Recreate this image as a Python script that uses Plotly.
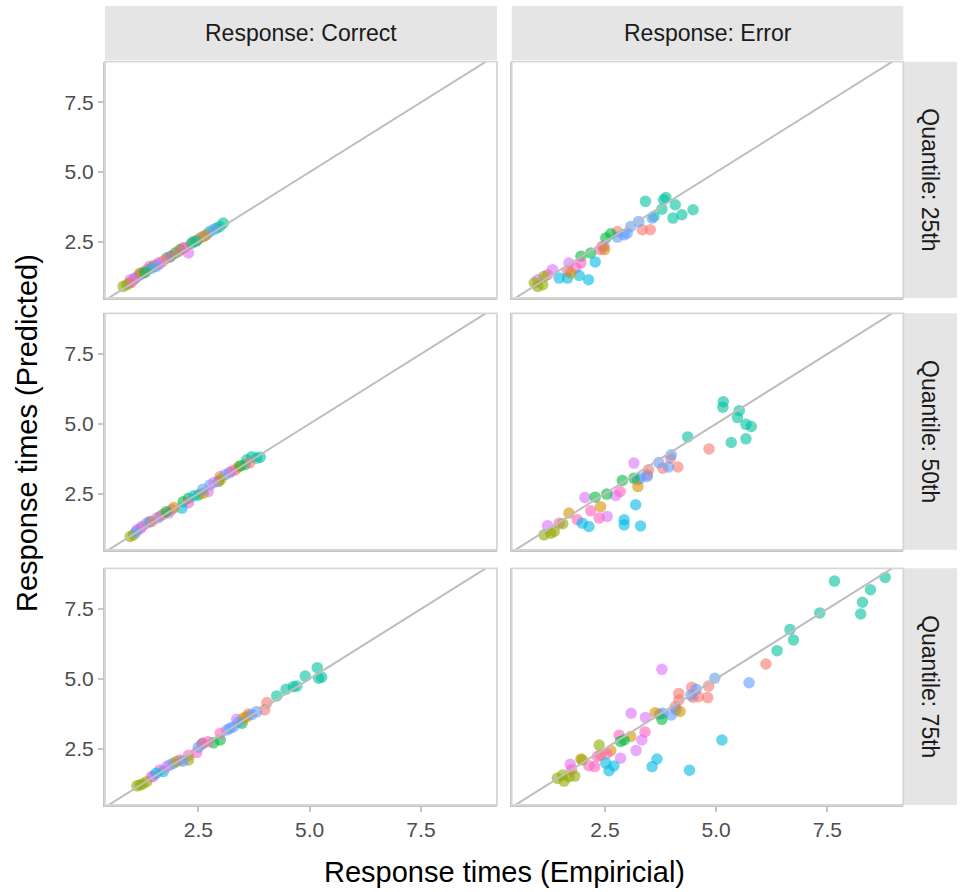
import plotly.graph_objects as go

# ---------------- data ----------------
COLORS = ["#F8766D", "#D39200", "#93AA00", "#00BA38", "#00C19F",
          "#00B9E3", "#619CFF", "#DB72FB", "#FF61C3"]
responses = ["Correct", "Error"]
quantiles = ["25th", "50th", "75th"]
tick_vals = [2.5, 5.0, 7.5]
tick_text = ["2.5", "5.0", "7.5"]

# Response: Correct, Quantile 25th
c25_x = [3.06, 2.91, 2.76, 2.98, 2.85, 2.54, 2.39, 2.61, 2.70, 2.47, 2.28, 2.16, 1.98, 1.79, 2.09, 1.88,
         1.60, 1.34, 1.41, 1.70, 1.50, 1.19, 1.08, 1.25, 0.97, 1.05, 1.15, 0.81, 0.89, 0.95, 1.19, 1.45,
         1.62, 1.85, 2.05, 2.20, 2.35, 1.30, 1.55, 2.45, 2.65, 1.00]
c25_y = [3.17, 2.99, 2.87, 3.05, 2.95, 2.64, 2.51, 2.69, 2.78, 2.55, 2.10, 2.28, 2.10, 1.92, 2.22, 1.98,
         1.74, 1.50, 1.62, 1.80, 1.64, 1.32, 1.20, 1.38, 1.14, 1.15, 1.28, 0.90, 0.96, 1.02, 1.38, 1.55,
         1.70, 1.95, 2.15, 2.30, 2.45, 1.40, 1.62, 2.52, 2.72, 1.05]
c25_g = [4, 4, 4, 4, 6, 6, 6, 0, 6, 1, 7, 8, 3, 3, 3, 3,
         8, 8, 8, 0, 1, 5, 5, 6, 7, 7, 7, 2, 2, 2, 1, 5,
         7, 8, 0, 8, 3, 3, 6, 4, 1, 8]

# Response: Correct, Quantile 50th
c50_x = [3.81, 3.59, 3.55, 3.89, 3.70, 3.33, 2.99, 3.10, 2.76, 3.20, 2.95, 2.50, 2.16, 2.28, 2.72, 1.83,
         1.12, 2.28, 1.90, 1.57, 1.34, 2.13, 1.41, 0.97, 1.04, 2.61, 1.64, 1.23, 3.40, 3.00, 2.85, 1.70,
         1.95, 1.20, 1.45, 3.25, 2.40, 3.65, 2.60, 1.78, 1.10, 3.45]
c50_y = [3.77, 3.71, 3.53, 3.80, 3.82, 3.35, 3.11, 3.17, 2.81, 3.25, 2.93, 2.45, 2.21, 2.33, 2.57, 1.80,
         1.20, 2.17, 1.92, 1.62, 1.44, 1.98, 1.50, 0.96, 1.02, 2.51, 1.68, 1.32, 3.45, 3.00, 2.90, 1.75,
         2.00, 1.25, 1.50, 3.30, 2.42, 3.60, 2.65, 1.85, 1.12, 3.50]
c50_g = [4, 4, 4, 4, 4, 0, 0, 6, 6, 6, 3, 3, 3, 3, 7, 7,
         7, 8, 8, 8, 8, 5, 5, 2, 2, 1, 6, 6, 1, 1, 7, 0,
         1, 8, 0, 8, 5, 0, 6, 3, 6, 3]

# Response: Correct, Quantile 75th
c75_x = [5.17, 5.20, 4.90, 4.71, 4.47, 4.26, 4.63, 5.27, 4.04, 3.99, 3.62, 3.81, 3.29, 3.14, 3.36, 3.59,
         3.48, 2.99, 2.84, 2.58, 2.99, 2.72, 2.46, 2.28, 2.09, 1.64, 1.45, 2.28, 1.19, 1.12, 1.34, 1.71,
         1.94, 1.86, 3.21, 1.49, 1.79, 2.01, 3.51, 1.25, 2.15, 2.50, 3.40, 1.55, 2.60, 3.70]
c75_y = [5.40, 5.02, 5.10, 4.74, 4.63, 4.39, 4.72, 5.06, 4.15, 3.89, 3.74, 3.82, 3.29, 3.17, 3.55, 3.64,
         3.41, 2.81, 2.71, 2.67, 3.05, 2.75, 2.36, 2.27, 2.10, 1.74, 1.50, 2.10, 1.20, 1.17, 1.32, 1.68,
         1.98, 1.92, 3.23, 1.52, 1.86, 2.04, 3.59, 1.24, 2.05, 2.55, 3.45, 1.62, 2.70, 3.72]
c75_g = [4, 4, 4, 4, 4, 4, 4, 4, 0, 0, 0, 6, 6, 6, 7, 1,
         3, 3, 3, 3, 8, 8, 8, 8, 8, 8, 8, 2, 2, 2, 2, 5,
         5, 6, 6, 7, 7, 1, 1, 2, 6, 6, 6, 5, 8, 6]

# Response: Error, Quantile 25th
e25_x = [3.87, 3.82, 3.41, 4.08, 3.78, 4.48, 4.23, 4.03, 3.60, 3.52, 3.34, 2.78, 2.44, 3.56, 3.26, 3.08,
         2.93, 2.78, 3.00, 2.52, 2.18, 1.96, 2.63, 2.48, 1.69, 1.32, 0.99, 1.96, 1.84, 1.66, 1.21, 2.40,
         2.28, 2.13, 1.92, 1.66, 1.47, 1.73, 2.49, 0.99, 1.10, 0.91, 1.13]
e25_y = [4.09, 4.01, 3.95, 3.83, 3.67, 3.65, 3.47, 3.35, 3.41, 2.93, 2.93, 2.87, 2.34, 3.35, 3.23, 3.05,
         2.75, 2.67, 2.81, 2.64, 2.10, 1.98, 2.79, 2.34, 1.74, 1.50, 1.14, 1.74, 1.56, 1.44, 1.32, 2.22,
         1.78, 1.14, 1.29, 1.20, 1.20, 1.38, 2.22, 0.90, 0.96, 1.03, 1.26]
e25_g = [4, 4, 4, 4, 4, 4, 4, 4, 4, 0, 0, 0, 0, 6, 6, 6,
         6, 6, 6, 3, 3, 3, 3, 7, 7, 7, 7, 8, 8, 8, 8, 8,
         5, 5, 5, 5, 5, 1, 1, 2, 2, 2, 2]

# Response: Error, Quantile 50th
e50_x = [5.16, 5.15, 5.52, 5.48, 5.67, 5.79, 5.67, 5.34, 4.36, 4.84, 4.14, 3.80, 3.97, 3.48, 3.45, 3.99,
         3.93, 3.71, 3.45, 3.30, 3.23, 3.15, 2.05, 2.74, 2.55, 1.21, 2.89, 2.28, 2.54, 3.15, 3.24, 2.40,
         1.69, 2.84, 2.18, 1.88, 1.47, 2.37, 3.19, 2.93, 2.93, 3.30, 2.14, 1.99, 1.13, 1.28, 1.36, 1.55]
e50_y = [5.79, 5.59, 5.47, 5.22, 4.98, 4.90, 4.46, 4.33, 4.53, 4.10, 3.45, 3.41, 3.77, 3.35, 3.17, 3.89,
         3.45, 3.61, 3.11, 3.05, 2.99, 3.59, 2.36, 2.43, 1.68, 1.35, 2.97, 2.37, 2.48, 3.05, 2.75, 2.03,
         1.80, 2.57, 1.88, 1.56, 1.44, 1.62, 2.10, 1.56, 1.38, 1.34, 1.32, 1.44, 1.02, 1.08, 1.14, 1.42]
e50_g = [4, 4, 4, 4, 4, 4, 4, 4, 4, 0, 0, 0, 0, 0, 0, 6,
         6, 6, 6, 6, 6, 7, 7, 7, 7, 7, 3, 3, 3, 3, 1, 1,
         1, 8, 8, 8, 8, 8, 5, 5, 5, 5, 5, 5, 2, 2, 2, 2]

# Response: Error, Quantile 75th
e75_x = [7.66, 8.80, 8.47, 8.29, 8.25, 7.33, 6.66, 6.74, 6.37, 6.12, 4.83, 4.81, 4.45, 4.16, 4.16, 4.48,
         4.60, 4.08, 5.74, 4.97, 4.55, 4.43, 4.10, 3.99, 3.80, 3.73, 4.19, 3.63, 3.08, 2.63, 1.96, 2.40,
         3.78, 3.78, 3.09, 3.41, 3.33, 3.20, 2.85, 1.72, 3.40, 2.82, 2.54, 2.33, 2.14, 2.27, 1.75, 2.93,
         2.85, 5.13, 4.40, 3.67, 3.56, 2.70, 2.59, 2.52, 2.37, 1.99, 1.82, 1.58, 1.43, 1.55, 1.69]
e75_y = [8.50, 8.63, 8.19, 7.74, 7.32, 7.36, 6.77, 6.39, 6.01, 5.53, 4.74, 4.33, 4.70, 4.48, 4.24, 4.34,
         4.36, 4.00, 4.86, 5.02, 4.63, 4.42, 3.89, 3.71, 3.77, 3.74, 3.83, 3.79, 2.94, 2.43, 2.13, 2.27,
         3.55, 5.34, 3.77, 3.62, 2.81, 2.44, 2.16, 1.94, 3.10, 2.98, 2.32, 2.22, 1.89, 1.86, 1.75, 2.81,
         2.76, 2.81, 1.73, 2.13, 1.86, 1.88, 1.71, 1.98, 2.63, 2.10, 1.52, 1.34, 1.44, 1.56, 1.50]
e75_g = [4, 4, 4, 4, 4, 4, 4, 4, 4, 0, 0, 0, 0, 0, 0, 0,
         0, 0, 6, 6, 6, 6, 6, 6, 6, 6, 1, 1, 1, 1, 1, 1,
         3, 7, 7, 7, 7, 7, 7, 7, 8, 8, 8, 8, 8, 8, 8, 3,
         3, 5, 5, 5, 5, 5, 5, 5, 2, 2, 2, 2, 2, 2, 2]

panel_data = [
    [(c25_x, c25_y, c25_g), (e25_x, e25_y, e25_g)],
    [(c50_x, c50_y, c50_g), (e50_x, e50_y, e50_g)],
    [(c75_x, c75_y, c75_g), (e75_x, e75_y, e75_g)],
]

# ---------------- layout geometry (pixels) ----------------
W, H = 960, 892
col_px = [(105, 497), (511.7, 903.3)]
row_px = [(61.7, 298), (313.3, 549.8), (568.3, 805)]
x_range = [0.403, 9.208]
y_range = [0.485, 8.957]

FONT = "Liberation Sans, Arial, sans-serif"
AXIS_LINE = "#c4c4c4"
BORDER = "#d6d6d6"
STRIP = "#e5e5e5"

fig = go.Figure()
layout = dict(
    width=W, height=H, margin=dict(l=0, r=0, t=0, b=0),
    paper_bgcolor="white", plot_bgcolor="white", showlegend=False,
    font=dict(family=FONT),
)
shapes = []
annotations = []

for r in range(3):
    for c in range(2):
        k = r * 2 + c + 1
        xa = "x" if k == 1 else f"x{k}"
        ya = "y" if k == 1 else f"y{k}"
        xs, ys, gs = panel_data[r][c]
        fig.add_trace(go.Scatter(
            x=xs, y=ys, mode="markers", xaxis=xa, yaxis=ya,
            marker=dict(size=11.5, color=[COLORS[g] for g in gs], opacity=0.6, line=dict(width=0)),
            hoverinfo="x+y",
        ))
        fig.add_trace(go.Scatter(
            x=[0, 10], y=[0, 10], mode="lines", xaxis=xa, yaxis=ya,
            line=dict(color="#bebebe", width=2), hoverinfo="skip",
        ))
        x0, x1 = col_px[c]
        y0, y1 = row_px[r]
        bottom = (r == 2)
        left = (c == 0)
        layout["xaxis" if k == 1 else f"xaxis{k}"] = dict(
            domain=[x0 / W, x1 / W], range=x_range, anchor=ya,
            showgrid=False, zeroline=False,
            showline=True, linecolor=AXIS_LINE, linewidth=2.2,
            tickvals=tick_vals, ticktext=tick_text,
            ticks="outside" if bottom else "", ticklen=5, tickcolor=AXIS_LINE, tickwidth=1.5,
            showticklabels=bottom, tickfont=dict(size=21, color="#4d4d4d", family=FONT),
        )
        layout["yaxis" if k == 1 else f"yaxis{k}"] = dict(
            domain=[1 - y1 / H, 1 - y0 / H], range=y_range, anchor=xa,
            showgrid=False, zeroline=False,
            showline=True, linecolor=AXIS_LINE, linewidth=2.2,
            tickvals=tick_vals, ticktext=tick_text,
            ticks="outside" if left else "", ticklen=5, tickcolor=AXIS_LINE, tickwidth=1.5,
            showticklabels=left, tickfont=dict(size=21, color="#4d4d4d", family=FONT),
        )
        shapes.append(dict(type="rect", xref=f"{xa} domain", yref=f"{ya} domain",
                           x0=0, x1=1, y0=0, y1=1, line=dict(color=BORDER, width=1.8),
                           fillcolor="rgba(0,0,0,0)", layer="above"))

# top strips
for c, name in enumerate(responses):
    x0, x1 = col_px[c]
    shapes.append(dict(type="rect", xref="paper", yref="paper",
                       x0=x0 / W, x1=x1 / W, y0=1 - 60 / H, y1=1 - 6 / H,
                       fillcolor=STRIP, line=dict(width=0), layer="below"))
    annotations.append(dict(xref="paper", yref="paper", x=(x0 + x1) / 2 / W, y=1 - 33 / H,
                            text=f"Response: {name}", showarrow=False,
                            font=dict(size=23, color="#1a1a1a", family=FONT),
                            xanchor="center", yanchor="middle"))
# right strips
for r, name in enumerate(quantiles):
    y0, y1 = row_px[r]
    shapes.append(dict(type="rect", xref="paper", yref="paper",
                       x0=904 / W, x1=957 / W, y0=1 - y1 / H, y1=1 - y0 / H,
                       fillcolor=STRIP, line=dict(width=0), layer="below"))
    annotations.append(dict(xref="paper", yref="paper", x=930.5 / W, y=1 - (y0 + y1) / 2 / H,
                            text=f"Quantile: {name}", showarrow=False, textangle=90,
                            font=dict(size=23, color="#1a1a1a", family=FONT),
                            xanchor="center", yanchor="middle"))

# axis titles
annotations.append(dict(xref="paper", yref="paper", x=504 / W, y=1 - 872 / H,
                        text="Response times (Empiricial)", showarrow=False,
                        font=dict(size=29, color="black", family=FONT),
                        xanchor="center", yanchor="middle"))
annotations.append(dict(xref="paper", yref="paper", x=27 / W, y=1 - 433 / H,
                        text="Response times (Predicted)", showarrow=False, textangle=-90,
                        font=dict(size=29, color="black", family=FONT),
                        xanchor="center", yanchor="middle"))

layout["shapes"] = shapes
layout["annotations"] = annotations
fig.update_layout(**layout)
fig.write_html("out.html")
